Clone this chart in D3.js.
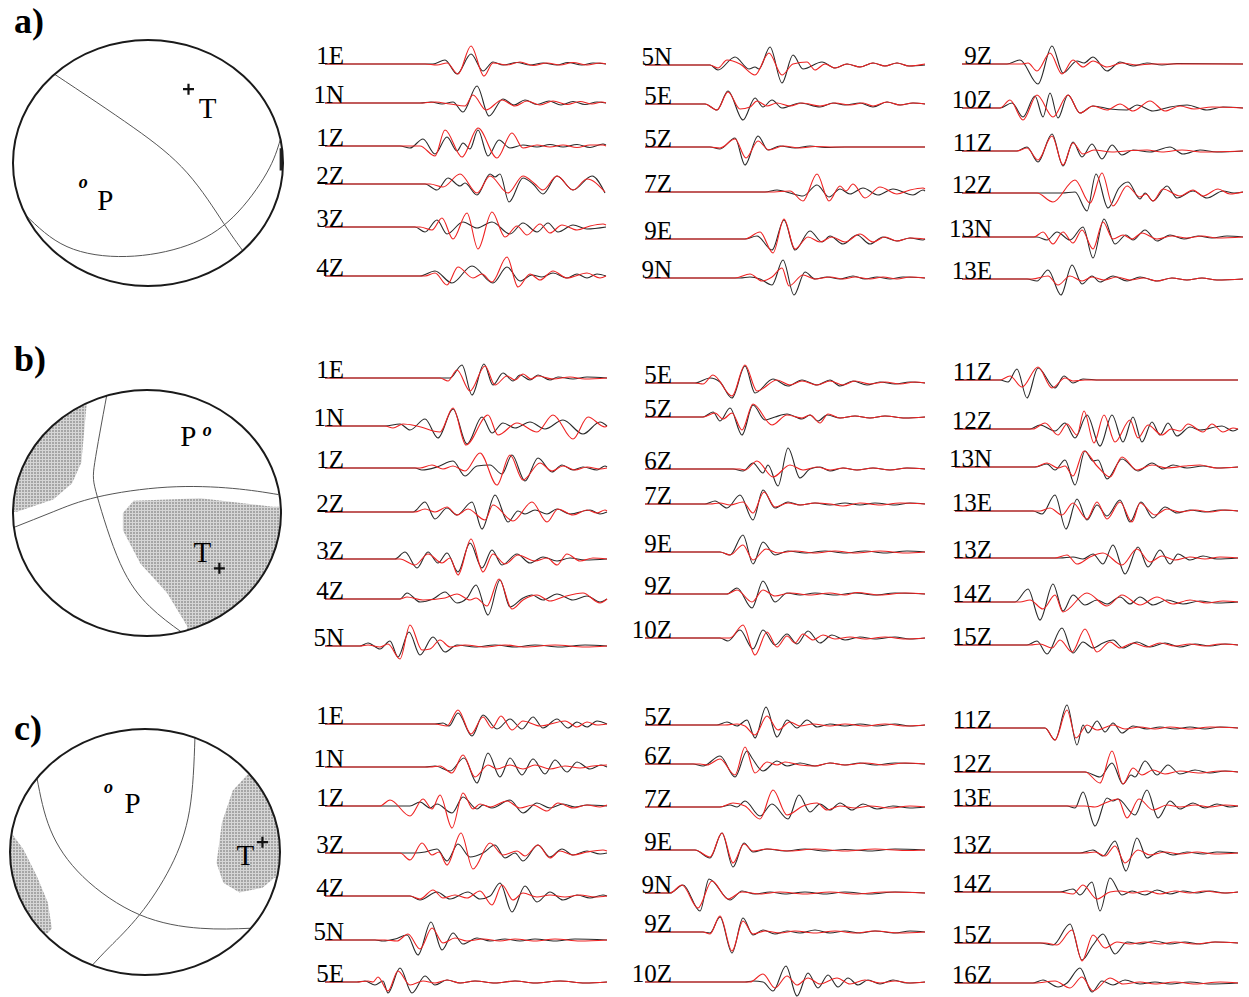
<!DOCTYPE html>
<html lang="en">
<head>
<meta charset="UTF-8">
<title>Focal mechanisms and waveform fits</title>
<script src="https://d3js.org/d3.v7.min.js"></script>
<style>
  body { margin: 0; background: #fff; }
  text { font-family: "Liberation Serif", "Times New Roman", serif; }
</style>
</head>
<body>
<svg id="fig" width="1249" height="997"></svg>
<script>
// ---- waveform data: time (s from trace start), amplitude; obs = black, syn = red ----
const a1 = [
  {sta:"1E", obs:[108,0,120,4,132,-10,146,10,158,-7,168,2,178,-1,192,1.5,205,-1,218,1,232,-1,243,1.5,257,-1,268,1,281,0],
             syn:[100,0,112,-1,122,1,133,-10,146,18,159,-12,168,1,182,-1,195,2,208,-1.5,222,1,235,-1,248,1.5,262,-1,275,1,281,0]},
  {sta:"1N", obs:[95,0,106,1,117,-1,128,1,138,-9,152,17,164,-13,178,4,189,-2,200,3,212,-1.5,224,2,236,-2,248,1.5,260,-1.5,272,1,281,0],
             syn:[95,0,110,1,125,-1,140,-3,148,8,161,-7,177,3,190,-3,202,2,215,-2,228,2,242,-1.5,255,1.5,267,-1,277,1,281,0]},
  {sta:"1Z", obs:[75,0,85,-2,98,7,110,-8,122,9,132,-5,138,3,145,-3,153,16,163,-10,174,6,185,-2,198,1,212,-1,225,1.5,238,-1,252,1.5,265,-1.5,278,2,281,1],
             syn:[95,0,110,-10,120,16,137,-11,153,18,172,-12,187,13,198,-2,212,1,225,-1,238,1,252,-1.5,265,1,278,1,281,0]},
  {sta:"2Z", obs:[100,0,112,-6,123,6,135,-2,140,1,152,-11,165,10,170,7,175,10,184,-18,198,6,208,0,218,-10,232,8,248,-6,267,8,280,-9],
             syn:[105,0,118,-3,135,10,152,-9,165,8,183,-9,198,8,210,0,218,-6,232,8,248,-6,262,5,280,-8]},
  {sta:"3Z", obs:[90,0,100,-5,112,7,122,-7,138,5,152,-1,167,5,185,-7,198,4,212,-5,223,4,233,-5,248,2,262,-2,281,0],
             syn:[95,0,107,-3,117,9,128,-12,142,14,153,-22,167,15,180,-10,192,1,202,-8,215,3,225,-6,237,2,252,-3,265,1,278,3,281,2]},
  {sta:"4Z", obs:[95,0,110,5,127,-7,147,10,168,-7,182,9,195,-5,207,1,217,-1,228,3,242,-2,252,2,262,-2,272,2,281,0],
             syn:[100,0,110,3,122,-9,133,9,148,-2,157,2,167,-6,182,19,193,-11,205,2,215,-4,228,5,242,-2,262,3,275,-2,281,0]}
];
const a2 = [
  {sta:"5N", obs:[65,0,73,-5,90,8,104,-4,110,-2,114,-4,125,18,137,-18,148,10,158,-4,177,3,190,-3,202,1,215,-2,228,2,240,-1,252,2,264,-1,280,0],
             syn:[65,0,73,-3,82,5,95,1,110,-10,124,12,137,-10,148,1,162,3,170,-5,180,1,190,-3,202,1,215,-2,228,2,240,-1,252,2,264,-1,280,1]},
  {sta:"5E", obs:[60,0,72,-6,83,13,98,-16,110,6,118,-3,127,4,137,-4,155,1,175,-3,188,1,200,-1,215,1,228,-3,242,2,255,-1,268,1,280,0],
             syn:[60,0,72,-6,83,12,95,-5,105,-3,112,3,122,-2,132,1,145,-2,157,1,175,-2,190,1,205,-1,218,1,228,-2,242,2,255,-1,268,1,280,0]},
  {sta:"5Z", obs:[65,0,75,-2,90,9,100,-18,113,11,123,-3,135,1,150,-1,165,1,180,-0.5,200,0,280,0],
             syn:[65,0,75,-1,90,8,101,-11,113,6,124,-3,138,1,155,-1,170,0.5,190,0,280,0]},
  {sta:"7Z", obs:[120,0,132,2,145,-1,158,-4,172,7,184,-5,195,3,205,-2,218,4,233,-3,248,3,268,-3,278,2,280,1],
             syn:[125,0,145,1,158,-9,172,18,184,-9,195,6,201,1,208,8,220,-6,235,5,252,-2,265,2,278,4,280,3]},
  {sta:"9E", obs:[100,0,112,3,127,-11,139,19,150,-11,165,8,177,-3,185,3,198,-5,212,4,225,-5,238,2,252,-2,265,1,278,-1,280,0],
             syn:[100,0,115,7,128,-14,139,20,150,-10,163,2,175,-3,187,2,200,-3,215,5,228,-3,240,2,252,-2,265,1,280,0]},
  {sta:"9N", obs:[95,0,105,1,115,-1,127,-7,138,18,149,-17,160,6,170,-1,182,1,195,-1,208,2,220,-1,232,1,245,-1,258,1,280,0],
             syn:[90,0,105,4,117,-3,127,1,137,10,144,-8,158,3,170,-1,185,1,198,-1,210,1,225,-1,238,1,252,-1,265,1,280,0]}
];
const a3 = [
  {sta:"9Z", obs:[45,0,58,4,76,-20,90,18,101,-9,115,3,122,1,131,7,145,-7,158,2,171,-2,185,1,200,-1,215,0.5,281,0],
             syn:[60,0,66,1,75,-7,88,11,100,-10,111,4,121,-3,131,3,145,-3,160,1,175,-1,190,0,281,0]},
  {sta:"10Z", obs:[38,0,50,5,61,-9,73,12,81,-9,88,15,96,-10,106,13,118,-5,131,2,148,-1,165,-2,175,3,191,-3,208,1,225,3,245,-2,261,1,281,0],
              syn:[38,0,48,8,61,-12,75,13,91,-9,106,13,118,-5,131,2,145,-2,158,4,171,-3,188,7,203,-3,218,2,232,-1,250,1,281,0]},
  {sta:"11Z", obs:[55,0,65,4,76,-11,90,17,101,-15,111,9,120,-6,130,7,140,-8,150,6,160,-4,171,1,188,-1,208,4,221,-3,238,1,255,-1,281,0],
              syn:[55,0,65,3,76,-9,90,15,101,-14,111,8,121,-3,132,1,150,-1,170,0.5,185,1,200,-1,220,1,240,-1,281,0]},
  {sta:"12Z", obs:[100,0,113,1,125,-18,134,19,146,-15,157,5,166,11,178,-6,183,0,191,-8,205,7,215,-5,231,2,245,-5,261,2,272,0,281,1],
              syn:[75,0,91,-9,113,13,128,-10,140,20,151,-13,165,7,178,-4,184,-1,191,-8,201,4,218,-3,231,3,241,-3,256,4,268,-1,281,1]},
  {sta:"13N", obs:[75,0,85,-3,95,5,108,-3,121,10,131,-21,142,18,153,-7,164,2,171,-3,183,7,195,-4,208,2,222,-2,236,1,250,-1,265,1,281,0],
              syn:[72,0,81,5,91,-7,101,5,111,-6,120,7,131,-12,141,15,151,-2,161,2,170,-2,180,4,195,-2,210,1,225,-1,240,1,255,-1,281,0]},
  {sta:"13E", obs:[65,0,75,-2,86,9,99,-16,110,14,120,-5,130,3,138,-3,151,3,165,-2,178,2,195,-2,210,1,225,-1,240,1,255,-1,281,0],
              syn:[70,0,86,3,96,-6,108,3,120,-2,130,2,142,-1,155,2,168,-1,182,1,195,-2,210,1,225,-1,240,1,255,-1,281,0]}
];
const b1 = [
  {sta:"1E", obs:[125,0,137,13,147,-17,159,14,168,-7,178,5,188,-3,195,3,205,-2,213,3,225,-2,233,1,248,-1,262,1,282,0],
             syn:[115,0,123,-3,132,8,145,-13,160,12,170,-7,182,2,190,-2,198,4,206,-1,213,2,228,-1,245,1,260,-1,282,0]},
  {sta:"1N", obs:[60,0,75,2,85,-4,100,7,113,-12,128,17,142,-18,157,9,167,-7,178,3,190,-2,205,4,220,-3,238,6,258,-8,275,4,282,0],
             syn:[60,0,68,-2,78,2,92,0,115,-6,128,18,141,-19,163,11,173,-9,192,3,212,-6,228,11,248,-13,263,9,280,-1,282,0]},
  {sta:"1Z", obs:[90,0,97,-2,112,1,128,7,140,-8,152,2,165,3,177,-6,187,13,200,-13,213,10,227,-4,237,3,248,-2,258,1,272,-2,280,2,282,1],
             syn:[95,0,107,3,118,-1,128,2,140,-3,155,15,172,-17,185,13,198,-12,215,5,227,-3,238,2,250,-2,262,1,275,-1,282,0]},
  {sta:"2Z", obs:[88,0,100,10,110,-7,122,4,132,-3,147,10,157,-17,170,17,183,-10,193,1,200,-2,210,2,222,-2,232,3,245,-2,265,2,275,-2,282,0],
             syn:[90,0,100,3,110,0,122,5,132,-3,143,3,160,-8,168,7,188,-9,207,10,222,-10,233,3,248,-3,262,2,272,-1,280,2,282,1]},
  {sta:"3Z", obs:[70,0,80,7,92,-9,103,7,113,-4,122,6,133,-13,145,16,157,-9,167,9,177,-6,192,5,205,-4,218,2,232,-2,245,1,260,-1,282,0],
             syn:[75,0,90,-6,103,5,117,-4,125,1,133,-16,146,20,158,-13,168,5,180,-5,193,4,210,-2,222,1,232,-6,242,5,255,-2,268,1,282,0]},
  {sta:"4Z", obs:[75,0,82,6,95,-3,108,0,120,7,132,-4,142,1,151,14,163,-16,175,19,185,-8,198,1,207,4,218,-1,232,5,248,-1,262,3,275,-3,282,0],
             syn:[75,0,82,2,98,-1,120,1,132,5,145,-1,151,1,162,-7,174,20,187,-10,198,-1,212,4,225,-2,238,2,258,6,275,-4,282,0]},
  {sta:"5N", obs:[35,0,43,3,55,-3,65,5,73,-11,84,14,95,-9,108,9,120,-6,132,1,150,-1,170,1,190,-1,210,1,235,-1,260,1,282,0],
             syn:[35,0,43,1,55,-1,63,2,75,-13,85,21,97,-4,105,-3,115,6,125,-1,140,1,160,-1,180,1,200,-1,230,1,260,-1,282,0]}
];
const b2 = [
  {sta:"5E", obs:[50,0,65,5,75,1,87,-15,100,17,110,-10,128,4,143,-3,157,3,172,-2,185,3,195,-3,208,2,222,-2,235,1,250,-1,265,1,280,0],
             syn:[50,0,58,-1,68,8,87,-13,100,18,112,-8,132,3,145,-2,157,2,172,-2,185,2,198,-2,210,2,225,-1,240,1,255,-1,270,1,280,0]},
  {sta:"5Z", obs:[58,0,68,5,75,-4,85,9,97,-18,108,12,120,-3,130,0,142,3,157,-2,165,2,173,-4,182,2,195,-1,210,1,225,-1,240,1,260,-1,280,0],
             syn:[58,0,70,4,78,-2,87,4,97,-13,108,13,127,-8,142,2,157,-1,165,2,175,-6,183,3,195,-1,210,1,225,-1,240,1,260,-1,280,0]},
  {sta:"6Z", obs:[88,0,98,-2,108,6,118,-4,123,4,133,-17,143,21,155,-9,165,0,175,2,185,-2,198,1,212,-1,228,1,245,-1,262,1,280,0],
             syn:[95,0,100,-1,112,8,128,-8,145,4,158,-1,172,2,185,-1,198,1,212,-1,228,1,245,-1,262,1,280,0]},
  {sta:"7Z", obs:[60,0,70,3,82,-4,95,9,108,-16,118,14,130,-4,143,2,155,-1,170,1,185,-1,200,1,215,-1,230,1,250,-1,265,1,280,0],
             syn:[65,0,75,1,85,-1,98,2,108,-9,119,12,130,-3,143,1,155,-1,170,1,185,0,198,-2,215,1,235,-1,255,1,280,0]},
  {sta:"9E", obs:[75,0,85,-3,98,17,108,-12,118,10,130,-3,143,1,160,-1,180,1,200,-1,220,1,240,-1,262,1,280,0],
             syn:[75,0,85,-3,98,7,108,-8,121,3,133,-1,150,1,170,-1,190,1,210,-1,235,1,260,-1,280,0]},
  {sta:"9Z", obs:[82,0,92,6,107,-14,118,13,130,-8,142,1,155,-1,170,1,190,-1,210,1,230,-1,250,1,280,0],
             syn:[82,0,92,4,107,-8,118,4,130,-2,145,1,165,-1,185,1,200,-1,212,1.5,235,-1,260,1,280,0]},
  {sta:"10Z", obs:[75,0,83,-3,95,8,108,-11,118,8,130,-7,142,4,152,-6,163,7,175,-5,187,3,200,-2,215,1,230,-1,250,1,265,-1,280,0],
              syn:[85,0,98,13,110,-17,122,6,132,-9,142,2,150,-5,158,4,168,-2,178,3,190,-1,205,1,220,-1,240,1,260,-1,280,0]}
];
const b3 = [
  {sta:"11Z", obs:[45,0,53,-2,62,11,72,-18,83,12,100,-8,109,4,118,-3,128,1,145,0,283,0],
              syn:[45,0,55,4,67,-7,83,13,97,-8,110,2,118,-1,130,0,283,0]},
  {sta:"12Z", obs:[75,0,85,4,100,-2,110,6,120,-9,132,14,145,-17,157,14,168,-13,178,12,187,-13,197,7,205,-6,213,6,222,-7,235,2,245,-1,267,3,278,-2,283,0],
              syn:[78,0,90,6,103,-6,112,5,122,-6,129,18,139,-14,149,14,160,-13,175,9,183,-9,193,4,207,-6,216,0,225,-2,233,5,248,-3,257,5,268,-3,278,1,283,0]},
  {sta:"13N", obs:[80,0,92,3,100,-3,110,7,120,-18,130,16,138,6,143,7,152,-12,167,8,183,-4,197,4,208,-2,218,2,232,-1,248,1,262,-1,283,0],
              syn:[80,0,92,4,103,-1,110,1,118,-9,129,16,142,1,155,-10,167,10,182,-3,197,2,212,-1,230,1,245,2,262,-1,283,0]},
  {sta:"13E", obs:[78,0,87,-3,100,16,111,-18,122,12,132,-9,142,6,152,-5,165,11,175,-11,186,9,198,-7,210,4,222,-2,235,1,250,-1,265,1,283,0],
              syn:[85,0,95,3,107,-4,118,8,132,-8,142,9,152,-8,165,9,177,-11,185,8,200,-4,212,2,225,-1,240,1,255,-1,270,1,283,0]},
  {sta:"13Z", obs:[105,0,118,1,128,-1,138,4,148,-6,158,13,170,-16,183,11,193,-9,205,8,215,-6,223,4,235,-2,248,2,262,-1,283,0],
              syn:[100,0,112,3,122,-6,135,1,148,5,167,-7,182,9,195,-4,207,2,220,-2,235,1,250,-1,265,1,283,0]},
  {sta:"14Z", obs:[60,0,73,13,85,-18,98,18,108,-9,118,7,130,-3,142,2,152,-2,165,5,175,-2,185,5,198,-3,212,2,228,-2,245,1,262,-1,283,0],
              syn:[65,0,75,2,88,-7,100,7,108,-10,132,9,152,-4,167,7,185,-3,202,5,218,-2,235,2,252,-1,268,1,283,0]},
  {sta:"15Z", obs:[72,0,82,4,92,-9,107,17,118,-8,128,3,138,-3,148,2,158,5,168,-3,182,3,195,-2,210,2,225,-2,240,1,255,-1,270,1,283,0],
              syn:[75,0,85,1,97,-3,105,5,117,-7,130,16,142,-7,155,3,165,-3,178,2,192,-2,205,2,220,-1,235,1,250,-1,265,1,283,0]}
];
const c1 = [
  {sta:"1E", obs:[110,0,118,1,124,-2,133,11,147,-12,158,9,172,-5,185,5,197,-5,208,7,218,-4,232,5,243,-4,252,2,262,-3,272,3,282,0],
             syn:[110,0,122,-2,133,14,146,-10,158,7,167,-4,176,8,187,-6,198,3,215,-2,240,3,252,-3,262,2,272,-1,282,0]},
  {sta:"1N", obs:[100,0,110,1,125,-4,139,9,152,-16,163,14,175,-10,185,9,197,-8,208,8,220,-7,230,7,242,-5,252,5,265,-2,276,2,282,0],
             syn:[105,0,115,1,127,-6,138,12,150,-10,163,2,172,-2,185,2,198,-2,210,2,225,-2,240,1,255,-1,268,1,282,2]},
  {sta:"1Z", obs:[85,0,95,4,105,-2,112,2,127,-7,138,9,152,-3,158,1,167,-2,185,6,198,-7,212,3,225,-2,238,2,250,-1,262,1,282,0],
             syn:[55,0,65,6,85,-10,98,7,107,-3,115,11,127,-22,138,13,148,-3,155,2,165,-1,182,5,195,-2,208,1,222,-5,233,3,248,-2,262,1,275,-1,282,1]},
  {sta:"3Z", obs:[90,0,100,1,112,4,122,-8,133,9,145,-4,158,0,170,8,180,-5,190,0,198,-8,213,8,225,-4,237,4,248,-2,262,2,275,-1,282,0],
             syn:[75,0,85,-7,97,10,107,-2,114,1,122,-12,136,20,148,-16,165,10,178,-2,192,2,200,-3,213,8,225,-5,235,2,248,-2,262,1,278,3,282,2]},
  {sta:"4Z", obs:[85,0,95,-4,112,4,125,-3,143,4,155,-3,165,0,175,13,187,-16,200,10,212,-6,225,4,238,-4,252,1,265,-2,278,1,282,0],
             syn:[85,0,95,-3,108,6,118,-2,130,1,142,-2,155,5,167,-9,177,11,188,-4,198,3,212,-1,225,1,240,-1,255,1,270,-1,282,0]},
  {sta:"5N", obs:[50,0,58,-1,70,1,82,5,93,-15,106,18,117,-10,128,7,138,-4,152,2,165,-1,180,1,195,-1,210,1,230,-1,250,1,282,0],
             syn:[60,0,72,-1,83,6,95,-9,107,12,118,-3,130,2,142,-1,158,1,175,-1,190,1,210,-1,230,1,255,-1,282,0]},
  {sta:"5E", obs:[32,0,40,1,50,-3,58,1,63,-11,75,14,87,-11,100,6,110,-3,122,2,135,-1,150,1,170,-1,190,1,210,-1,235,1,260,-1,282,0],
             syn:[32,0,43,1,48,0,53,5,63,-9,73,11,85,-3,98,1,110,-1,122,2,135,-1,150,1,170,-1,190,1,210,-1,235,1,260,-1,282,0]}
];
const c2 = [
  {sta:"5Z", obs:[72,0,82,3,92,-1,102,5,110,-13,121,18,132,-12,142,5,152,-3,162,5,172,-2,185,1,200,-1,215,1,232,-1,250,1,265,-1,280,0],
             syn:[80,0,92,1,100,-1,110,-10,122,9,133,-5,145,3,155,-1,168,1,185,-1,200,1,220,-1,240,1,260,-1,280,0]},
  {sta:"6Z", obs:[48,0,58,-2,75,8,90,-13,102,13,107,6,118,-7,132,3,142,-2,155,1,170,-2,185,1,200,-1,215,1,230,-1,250,1,280,0],
             syn:[55,0,62,-1,75,5,90,-11,100,17,110,-9,122,2,132,-1,140,2,155,-1,170,-2,185,1,200,-1,220,1,240,-1,260,1,280,0]},
  {sta:"7Z", obs:[75,0,85,2,92,0,100,6,115,-9,127,3,143,-12,154,12,165,-5,175,3,185,-3,195,4,207,-3,218,3,232,-2,248,1,265,-1,280,0],
             syn:[75,0,88,4,100,1,115,-12,128,17,142,-8,158,1,172,4,182,-3,195,1,210,-1,225,1,245,-1,265,1,280,0]},
  {sta:"9E", obs:[50,0,65,-8,77,17,88,-17,99,7,108,-2,122,1,140,-1,160,1,180,-1,200,0.5,225,-1,250,1,280,0],
             syn:[50,0,65,-7,77,17,88,-13,99,6,108,-1,122,1,145,-1,170,1,200,-1,230,1,260,-0.5,280,0]},
  {sta:"9N", obs:[25,0,38,8,55,-18,64,14,85,-7,97,2,110,-1,125,1,140,-1,160,1,180,-1,200,1,225,-1,250,1,280,0],
             syn:[25,0,37,8,53,-15,67,12,83,-6,97,1,115,-1,135,1,160,-1,185,1,210,-1,240,1,280,0]},
  {sta:"9Z", obs:[58,0,65,-1,75,15,87,-21,98,14,108,-3,118,2,130,-2,142,1,155,-1,170,2,185,-1,200,1,215,-1,230,1,250,-1,265,1,280,0],
             syn:[58,0,65,-2,75,16,87,-19,98,11,108,-2,120,1,135,-1,150,1,170,-1,190,1,210,-1,230,1,255,-1,280,0]},
  {sta:"10Z", obs:[100,0,108,1,118,0,128,-9,141,16,152,-14,163,9,173,-6,183,7,193,-5,203,4,213,-3,223,2,235,-2,248,2,262,-1,280,0],
              syn:[105,0,118,8,130,-6,142,6,152,-3,163,4,175,-2,192,4,205,-2,220,2,235,-1,250,1,265,-1,280,0]}
];
const c3 = [
  {sta:"11Z", obs:[90,0,100,-12,112,23,122,-17,128,3,133,-5,142,7,150,-4,158,5,167,-5,178,2,192,-1,205,1,220,-1,235,1,250,-1,265,1,283,0],
              syn:[90,0,100,-12,112,18,121,-10,132,3,142,-2,158,3,170,-1,185,1,200,-1,215,1,235,-1,255,1,283,0]},
  {sta:"12Z", obs:[130,0,145,-5,157,9,168,-12,176,-3,180,-5,190,11,202,-3,213,7,225,-2,240,2,255,-1,270,1,283,0],
              syn:[130,0,145,-11,157,21,168,-12,178,4,187,-3,198,2,210,-2,225,1,245,-1,265,1,283,0]},
  {sta:"13E", obs:[112,0,120,-2,128,14,140,-20,152,8,158,5,163,7,180,-9,192,16,203,-12,215,5,225,-3,238,3,250,-2,262,2,275,-1,283,0],
              syn:[130,0,140,-1,150,3,163,7,172,-12,184,7,198,-4,212,1,225,-1,240,1,255,-1,270,1,283,0]},
  {sta:"13Z", obs:[125,0,138,3,148,-3,160,12,171,-18,182,15,192,-5,205,2,218,-2,232,1,248,-1,262,1,283,0],
              syn:[130,0,140,1,150,-3,160,7,170,-10,183,3,195,-2,210,1,225,-1,242,1,260,-1,283,0]},
  {sta:"14Z", obs:[105,0,118,3,125,-3,137,10,145,-19,155,14,167,-3,177,1,190,-3,202,2,215,-2,228,1,242,-1,255,1,270,-1,283,0],
              syn:[105,0,118,-2,128,7,142,-7,155,0,165,1,178,-1,192,1,205,-2,220,1,235,-1,250,1,268,-1,283,0]},
  {sta:"15Z", obs:[85,0,98,-2,115,19,127,-17,138,-2,148,9,160,-11,172,1,185,-1,200,2,215,-1,230,1,245,-1,260,1,283,0],
              syn:[90,0,102,-2,117,13,127,-18,138,8,150,-5,162,1,175,-1,190,1,205,-1,220,1,240,-1,260,1,283,0]},
  {sta:"16Z", obs:[78,0,88,3,103,-4,112,0,125,15,137,-9,147,2,158,-2,170,3,185,-1,200,1,215,-1,235,1,255,-1,283,0],
              syn:[80,0,100,2,115,-5,127,6,138,-8,155,5,168,-1,185,1,200,-1,220,1,240,-1,265,1,283,0]}
];

// ---- focal sphere data (unit-circle coordinates, y downward) ----
const ballA = {
  planes: [[-0.69,-0.72, -0.11,-0.29, 0.29,0.08, 0.56,0.49, 0.70,0.71],
           [-0.91,0.42, -0.60,0.68, -0.16,0.76, 0.29,0.67, 0.63,0.44, 0.88,0.08, 0.98,-0.19]],
  shade: [],
  dark: [[0.975,-0.12, 1.1,-0.12, 1.1,0.06, 0.975,0.06]],
  P: [-0.48,0.16], T: [0.30,-0.60]
};
const ballB = {
  planes: [[-0.30,-0.96, -0.39,-0.41, -0.37,-0.13, -0.20,0.41, 0.02,0.76, 0.26,0.97],
           [-1.0,0.12, -0.70,-0.01, -0.37,-0.13, 0.15,-0.21, 0.64,-0.20, 0.98,-0.15]],
  shade: [[-0.45,-1.1, -0.45,-0.89, -0.49,-0.41, -0.56,-0.24, -0.70,-0.11, -0.97,-0.01, -1.1,0.0, -1.1,-1.1],
          [-0.18,0.14, -0.18,0.0, -0.10,-0.10, 0.40,-0.12, 0.94,-0.05, 1.1,-0.05, 1.1,1.1, 0.30,1.1, 0.30,0.92, 0.15,0.65, -0.05,0.41]],
  dark: [],
  P: [0.45,-0.67], T: [0.54,0.45]
};
const ballC = {
  planes: [[0.37,-0.93, 0.33,-0.34, 0.19,0.12, -0.04,0.51, -0.26,0.77, -0.39,0.92],
           [-0.80,-0.60, -0.70,-0.18, -0.46,0.20, -0.04,0.51, 0.41,0.62, 0.78,0.62]],
  shade: [[-0.98,-0.14, -0.90,-0.02, -0.80,0.20, -0.72,0.41, -0.69,0.62, -0.72,0.66, -1.1,0.66, -1.1,-0.14],
          [0.76,-0.63, 0.65,-0.50, 0.57,-0.24, 0.53,0.09, 0.58,0.25, 0.70,0.33, 0.87,0.29, 0.96,0.21, 1.1,0.21, 1.1,-0.63]],
  dark: [],
  P: [-0.27,-0.52], T: [0.87,-0.08]
};

// ---- layout ----
const panels = [
  {tag:"a)", tagY:33, ball:ballA, cx:148, cy:163, rx:135, ry:123,
   pOff:[22,27], tOff:[19,29],
   cols:[{data:a1, x0:325, lx:344, rows:[64,103,146,184,227,276]},
         {data:a2, x0:645, lx:672, rows:[65,104,147,192,239,278]},
         {data:a3, x0:962, lx:992, rows:[64,108,151,193,237,279]}]},
  {tag:"b)", tagY:371, ball:ballB, cx:147, cy:513, rx:134, ry:123,
   pOff:[-19,15], tOff:[-17,-6],
   cols:[{data:b1, x0:325, lx:344, rows:[378,426,468,512,559,599,646]},
         {data:b2, x0:645, lx:672, rows:[383,417,469,504,552,594,638]},
         {data:b3, x0:955, lx:992, rows:[380,429,467,511,558,602,645]}]},
  {tag:"c)", tagY:740, ball:ballC, cx:145, cy:852, rx:135, ry:123,
   pOff:[24,25], tOff:[-17,23],
   cols:[{data:c1, x0:325, lx:344, rows:[724,767,806,853,896,940,982]},
         {data:c2, x0:645, lx:672, rows:[725,764,807,850,893,932,982]},
         {data:c3, x0:955, lx:992, rows:[728,772,806,853,892,943,983]}]}
];

const svg = d3.select("#fig");
const defs = svg.append("defs");

// fine grey hatch for the shaded quadrants
const pat = defs.append("pattern").attr("id","hatch").attr("patternUnits","userSpaceOnUse")
  .attr("width",3).attr("height",3);
pat.append("rect").attr("width",3).attr("height",3).attr("fill","#a6a6a6");
pat.append("path").attr("d","M0,0.5H3M0.5,0V3").attr("stroke","#d6d6d6").attr("stroke-width",1);

function pts(flat) {
  const p = [];
  for (let i = 0; i < flat.length; i += 2) p.push([flat[i], flat[i+1]]);
  return p;
}
// waveform: flat baseline from the trace start up to the first sample
function trace(flat) {
  const p = pts(flat);
  if (p[0][0] > 0) p.unshift([0, 0]);
  return p;
}

const amp = d3.scaleLinear().domain([-25, 25]).range([25, -25]);

panels.forEach((pn, pi) => {
  const g = svg.append("g");

  g.append("text").attr("x", 14).attr("y", pn.tagY)
    .attr("font-size", 36).attr("font-weight", "bold").text(pn.tag);

  // focal sphere
  const bx = d3.scaleLinear().domain([-1, 1]).range([pn.cx - pn.rx, pn.cx + pn.rx]);
  const by = d3.scaleLinear().domain([-1, 1]).range([pn.cy - pn.ry, pn.cy + pn.ry]);
  const clipId = "clip" + pi;
  defs.append("clipPath").attr("id", clipId).append("ellipse")
    .attr("cx", pn.cx).attr("cy", pn.cy).attr("rx", pn.rx).attr("ry", pn.ry);

  const bg = g.append("g").attr("clip-path", `url(#${clipId})`);
  const poly = d3.line().x(d => bx(d[0])).y(d => by(d[1]));
  pn.ball.shade.forEach(s => bg.append("path").attr("d", poly(pts(s)) + "Z").attr("fill", "url(#hatch)"));
  pn.ball.dark.forEach(s => bg.append("path").attr("d", poly(pts(s)) + "Z").attr("fill", "#222"));
  const curve = d3.line().x(d => bx(d[0])).y(d => by(d[1])).curve(d3.curveNatural);
  pn.ball.planes.forEach(pl => {
    bg.append("path").attr("d", curve(pts(pl))).attr("fill", "none").attr("stroke", "#555").attr("stroke-width", 1);
  });
  g.append("ellipse").attr("cx", pn.cx).attr("cy", pn.cy).attr("rx", pn.rx).attr("ry", pn.ry)
    .attr("fill", "none").attr("stroke", "#1a1a1a").attr("stroke-width", 2);

  // P and T axes
  const px = bx(pn.ball.P[0]), py = by(pn.ball.P[1]);
  g.append("text").attr("x", px).attr("y", py + 5).attr("text-anchor", "middle")
    .attr("font-size", 18).attr("font-style", "italic").attr("font-weight", "bold").text("o");
  g.append("text").attr("x", px + pn.pOff[0]).attr("y", py + pn.pOff[1]).attr("text-anchor", "middle")
    .attr("font-size", 29).text("P");
  const tx = bx(pn.ball.T[0]), ty = by(pn.ball.T[1]);
  g.append("path").attr("d", `M${tx-5.5},${ty}H${tx+5.5}M${tx},${ty-5.5}V${ty+5.5}`)
    .attr("stroke", "#111").attr("stroke-width", 2.2);
  g.append("text").attr("x", tx + pn.tOff[0]).attr("y", ty + pn.tOff[1]).attr("text-anchor", "middle")
    .attr("font-size", 29).text("T");

  // waveform columns
  pn.cols.forEach(col => {
    const x = d3.scaleLinear().domain([0, 282]).range([col.x0, col.x0 + 282]);
    const line = d3.line().x(d => x(d[0])).y(d => amp(d[1])).curve(d3.curveMonotoneX);
    const rows = g.selectAll(null).data(col.data).enter().append("g")
      .attr("transform", (d, i) => `translate(0,${col.rows[i]})`);
    rows.append("path").attr("d", d => line(trace(d.obs)))
      .attr("fill", "none").attr("stroke", "#2a2a2a").attr("stroke-width", 1.1);
    rows.append("path").attr("d", d => line(trace(d.syn)))
      .attr("fill", "none").attr("stroke", "#ee2222").attr("stroke-width", 1.1);
    rows.append("text").attr("x", col.lx).attr("y", 0).attr("text-anchor", "end")
      .attr("font-size", 25).text(d => d.sta);
  });
});
</script>
</body>
</html>
